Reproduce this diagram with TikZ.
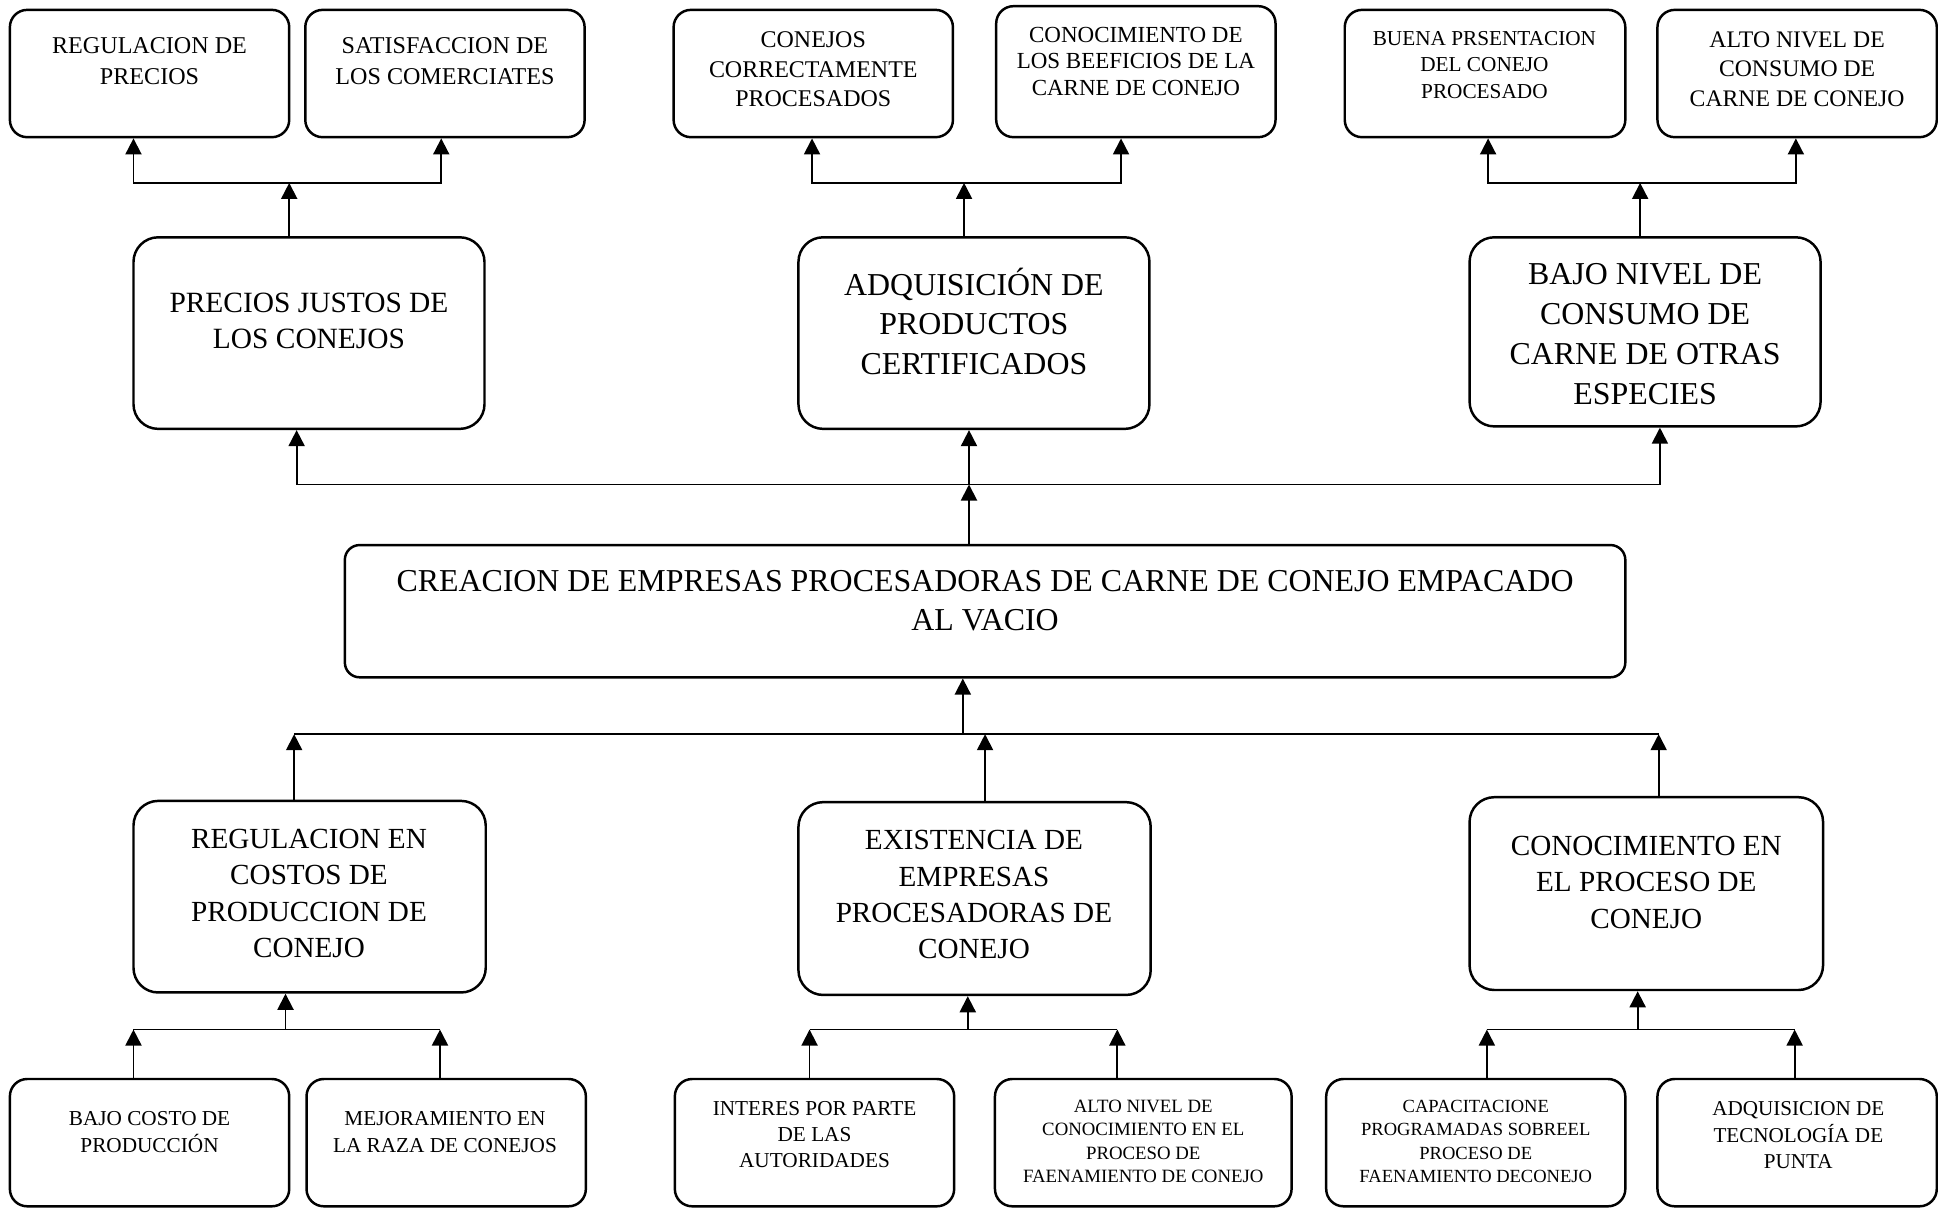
\documentclass[tikz,border=0pt]{standalone}
\usepackage{fontspec}
\setmainfont{Liberation Serif}
\usetikzlibrary{arrows.meta}

% rounded box given by its corners (x1,y1)-(x2,y2)
\newcommand\mkbox[6]{%
  \node[#1, minimum width={(#5-#3)*0.5pt}, minimum height={(#6-#4)*0.5pt}]
    (#2) at ({(#3+#5)/2},{(#4+#6)/2}) {};}

\begin{document}
\begin{tikzpicture}[x=0.5pt,y=-0.5pt,
  frame/.style={draw, line width=1pt, inner sep=0pt},
  rs/.style={frame, rounded corners=7pt},
  rm/.style={frame, rounded corners=10pt},
  rc/.style={frame, rounded corners=6pt},
  lbl/.style={align=center, inner sep=0pt},
  fs/.style 2 args={font=\fontsize{#1}{#2}\selectfont},
  link/.style={line width=0.75pt},
  up/.style={link, -{Triangle[length=6.5pt,width=6.5pt]}},
  both/.style={link, {Triangle[length=6.5pt,width=6.5pt]}-{Triangle[length=6.5pt,width=6.5pt]}}]
\useasboundingbox (0,0) rectangle (1568,977);

% ---- top row: effects of second level
\mkbox{rs}{a1}{8}{8}{234}{111}
\mkbox{rs}{a2}{247}{8}{473}{111}
\mkbox{rs}{b1}{545}{8}{771}{111}
\mkbox{rs}{b2}{806}{5}{1032}{111}
\mkbox{rs}{c1}{1088}{8}{1315}{111}
\mkbox{rs}{c2}{1341}{8}{1567}{111}

\node[lbl, fs={9.75}{12.5}] (a1t) at (121,49.5) {REGULACION DE\\PRECIOS};
\node[lbl, fs={9.75}{12.5}] (a2t) at (360,49.5) {SATISFACCION DE\\LOS COMERCIATES};
\node[lbl, fs={9.7}{12}] (b1t) at (658,56) {CONEJOS\\CORRECTAMENTE\\PROCESADOS};
\node[lbl, fs={9.3}{10.75}] (b2t) at (919,49.5) {CONOCIMIENTO DE\\LOS BEEFICIOS DE LA\\CARNE DE CONEJO};
\node[lbl, fs={8.6}{10.75}] (c1t) at (1201,52.5) {BUENA PRSENTACION\\DEL CONEJO\\PROCESADO};
\node[lbl, fs={9.6}{12}] (c2t) at (1454,56) {ALTO NIVEL DE\\CONSUMO DE\\CARNE DE CONEJO};

% ---- second row: direct effects
\mkbox{rm}{p1}{108}{192}{392}{347}
\mkbox{rm}{p2}{646}{192}{930}{347}
\mkbox{rm}{p3}{1189}{192}{1473}{345}

\node[lbl, fs={11.9}{14.5}] (p1t) at (250,259.5) {PRECIOS JUSTOS DE\\LOS CONEJOS};
\node[lbl, fs={12.9}{16.1}] (p2t) at (788,260) {ADQUISICIÓN DE\\PRODUCTOS\\CERTIFICADOS};
\node[lbl, fs={12.9}{16.2}] (p3t) at (1331,270.5) {BAJO NIVEL DE\\CONSUMO DE\\CARNE DE OTRAS\\ESPECIES};

% ---- central objective
\mkbox{rc}{m}{279}{441}{1315}{548}
\node[lbl, fs={12.9}{16}] (mt) at (797,486) {CREACION DE EMPRESAS PROCESADORAS DE CARNE DE CONEJO EMPACADO\\AL VACIO};

% ---- third row: direct means
\mkbox{rm}{q1}{108}{648}{393}{803}
\mkbox{rm}{q2}{646}{649}{931}{805}
\mkbox{rm}{q3}{1189}{645}{1475}{801}

\node[lbl, fs={11.8}{14.7}] (q1t) at (250,723) {REGULACION EN\\COSTOS DE\\PRODUCCION DE\\CONEJO};
\node[lbl, fs={11.8}{14.7}] (q2t) at (788,724) {EXISTENCIA DE\\EMPRESAS\\PROCESADORAS DE\\CONEJO};
\node[lbl, fs={11.8}{14.7}] (q3t) at (1332,714) {CONOCIMIENTO EN\\EL PROCESO DE\\CONEJO};

% ---- bottom row: root means
\mkbox{rs}{d1}{8}{873}{234}{976}
\mkbox{rs}{d2}{248}{873}{474}{976}
\mkbox{rs}{e1}{546}{873}{772}{976}
\mkbox{rs}{e2}{805}{873}{1045}{976}
\mkbox{rs}{f1}{1073}{873}{1315}{976}
\mkbox{rs}{f2}{1341}{873}{1567}{976}

\node[lbl, fs={8.6}{11}] (d1t) at (121,916) {BAJO COSTO DE\\PRODUCCIÓN};
\node[lbl, fs={8.6}{11}] (d2t) at (360,916) {MEJORAMIENTO EN\\LA RAZA DE CONEJOS};
\node[lbl, fs={8.6}{10.5}] (e1t) at (659,918) {INTERES POR PARTE\\DE LAS\\AUTORIDADES};
\node[lbl, fs={7.6}{9.5}] (e2t) at (925,923.5) {ALTO NIVEL DE\\CONOCIMIENTO EN EL\\PROCESO DE\\FAENAMIENTO DE CONEJO};
\node[lbl, fs={7.5}{9.5}] (f1t) at (1194,923.5) {CAPACITACIONE\\PROGRAMADAS SOBREEL\\PROCESO DE\\FAENAMIENTO DECONEJO};
\node[lbl, fs={8.55}{10.75}] (f2t) at (1455,918.5) {ADQUISICION DE\\TECNOLOGÍA DE\\PUNTA};

% ---- connectors, top branches
\coordinate (ja) at (234,148);  \coordinate (ja1) at (108,148);  \coordinate (ja2) at (357,148);
\coordinate (jb) at (780,148);  \coordinate (jb1) at (657,148);  \coordinate (jb2) at (907,148);
\coordinate (jc) at (1327,148); \coordinate (jc1) at (1204,148); \coordinate (jc2) at (1453,148);
\draw[both] (ja1 |- a1.south) -- (ja1) -- (ja2) -- (ja2 |- a2.south);
\draw[both] (jb1 |- b1.south) -- (jb1) -- (jb2) -- (jb2 |- b2.south);
\draw[both] (jc1 |- c1.south) -- (jc1) -- (jc2) -- (jc2 |- c2.south);
\draw[up] (ja |- p1.north) -- (ja);
\draw[up] (jb |- p2.north) -- (jb);
\draw[up] (jc |- p3.north) -- (jc);

% ---- connectors, central objective to effects
\coordinate (u1) at (240,392); \coordinate (u2) at (784,392); \coordinate (u3) at (1343,392);
\draw[both] (u1 |- p1.south) -- (u1) -- (u3) -- (u3 |- p3.south);
\draw[up] (u2) -- (u2 |- p2.south);
\draw[up] (u2 |- m.north) -- (u2);

% ---- connectors, means to central objective
\coordinate (l1) at (238,594); \coordinate (l2) at (797,594); \coordinate (l3) at (1342,594);
\coordinate (lm) at (779,594);
\draw[link] (l1) -- (l3);
\draw[up] (l1 |- q1.north) -- (l1);
\draw[up] (l2 |- q2.north) -- (l2);
\draw[up] (l3 |- q3.north) -- (l3);
\draw[up] (lm) -- (lm |- m.south);

% ---- connectors, bottom branches
\coordinate (jd) at (231,833);  \coordinate (jd1) at (108,833);  \coordinate (jd2) at (356,833);
\coordinate (je) at (783,833);  \coordinate (je1) at (655,833);  \coordinate (je2) at (904,833);
\coordinate (jf) at (1325,833); \coordinate (jf1) at (1203,833); \coordinate (jf2) at (1452,833);
\draw[link] (jd1) -- (jd2);
\draw[link] (je1) -- (je2);
\draw[link] (jf1) -- (jf2);
\draw[up] (jd1 |- d1.north) -- (jd1);
\draw[up] (jd2 |- d2.north) -- (jd2);
\draw[up] (je1 |- e1.north) -- (je1);
\draw[up] (je2 |- e2.north) -- (je2);
\draw[up] (jf1 |- f1.north) -- (jf1);
\draw[up] (jf2 |- f2.north) -- (jf2);
\draw[up] (jd) -- (jd |- q1.south);
\draw[up] (je) -- (je |- q2.south);
\draw[up] (jf) -- (jf |- q3.south);
\end{tikzpicture}
\end{document}
